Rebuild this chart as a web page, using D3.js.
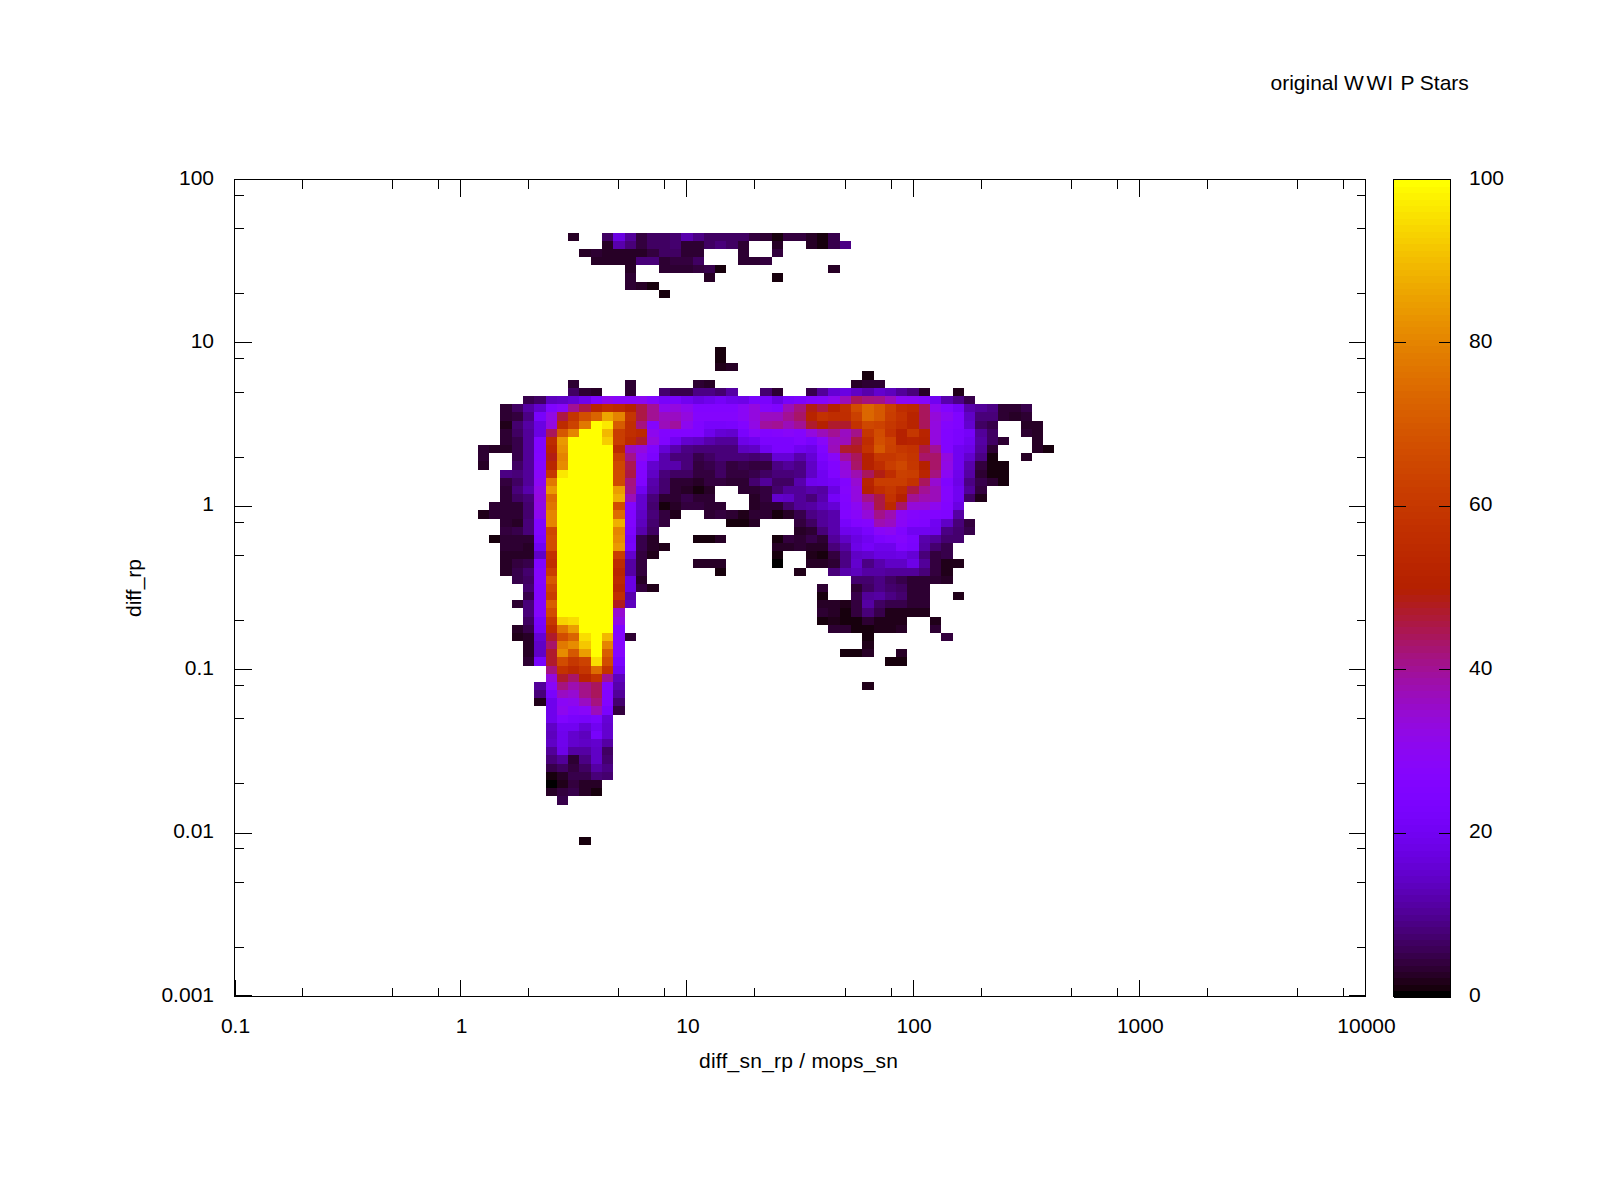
<!DOCTYPE html>
<html>
<head>
<meta charset="utf-8">
<title>original WWI P Stars</title>
<script src="https://cdn.jsdelivr.net/npm/d3@7"></script>
<style>
	html, body { margin: 0; padding: 0; background: #fff; }
	svg { display: block; }
	text { font-family: "Liberation Sans", sans-serif; font-size: 21px; fill: #000; }
</style>
</head>
<body>
<script>
const _ = null;
const Y = 100; // saturated cell

// tick labels
const xMajor = [0.1, 1, 10, 100, 1000, 10000];
const xMajorLabels = ["0.1", "1", "10", "100", "1000", "10000"];
const yMajor = [0.001, 0.01, 0.1, 1, 10, 100];
const yMajorLabels = ["0.001", "0.01", "0.1", "1", "10", "100"];
const minorSteps = [2, 5, 8];
const colorTicks = [0, 20, 40, 60, 80, 100];

// histogram: bins are 0.05 dex wide, x bin n is 10^(-1 + n/20), y bin m is 10^(-3 + m/20)
const rowBins = [93, 92, 91, 90, 89, 88, 87, 86, 79, 78, 77, 76, 75, 74, 73, 72, 71, 70, 69, 68, 67, 66, 65, 64, 63, 62, 61, 60, 59, 58, 57, 56, 55, 54, 53, 52, 51, 50, 49, 48, 47, 46, 45, 44, 43, 42, 41, 40, 39, 38, 37, 36, 35, 34, 33, 32, 31, 30, 29, 28, 27, 26, 25, 24, 19];
const rowFirstBin = [30, 33, 31, 32, 35, 35, 35, 38, 43, 43, 43, 56, 30, 30, 26, 24, 24, 24, 24, 24, 22, 22, 22, 24, 24, 24, 24, 23, 22, 24, 24, 23, 24, 24, 24, 24, 25, 26, 26, 25, 26, 26, 25, 25, 26, 26, 26, 28, 28, 27, 27, 27, 28, 28, 28, 28, 28, 28, 28, 28, 28, 28, 28, 29, 31];
const rowCounts = [
	[2,_,_,6,17,10,4,6,6,7,12,9,6,6,6,6,4,3,1,4,4,2,1,5],
	[2,12,8,4,6,6,7,3,3,6,8,6,3,_,_,2,_,_,2,1,5,9],
	[2,3,2,2,2.5,2.5,4,6,6,3,3,_,_,_,3,_,_,4],
	[2,2,2,2,8,8,3,4,4,6,_,_,_,3,3,4],
	[2,_,_,3,3,3,4,5,.7,_,_,_,_,_,_,_,_,_,2],
	[3,_,_,_,_,_,_,2,_,_,_,_,_,1],
	[3,2,.7],
	[1],
	[.7],
	[.7],
	[1.5,2],
	[.7],
	[3,_,_,_,_,3,_,_,_,_,_,3,2,_,_,_,_,_,_,_,_,_,_,_,_,2,3,3],
	[6,3,2,_,_,3,_,_,7,5,5,9,9,7,11,_,_,7,3,_,_,5,10,16,17,14,12,15,13,10,8,2,_,_,1.5],
	[5,6,13,14,16,19,25,31,28,28,30,26,22,23,20,17,19,21,19,18,23,23,17,22,24,26,27,31,37,44,42,41,37,30,29,27,20,12,9,5],
	[3,6,11,15,25,28,40,46,52,56,54,50,46,40,31,33,31,26,26,26,26,29,33,27,25,37,42,49,46,50,57,67,74,70,63,56,54,44,31,26,21,12,10,9,3,3,5],
	[3,4,9,22,32,46,59,68,73,87,80,59,46,40,36,36,33,27,27,27,27,29,33,36,36,40,43,52,58,56,56,63,74,70,62,58,52,44,34,30,25,14,8,8,3,2,3],
	[1.5,7,11,17,33,55,64,78,Y,97,71,57,42,27,37,39,31,25,22,22,23,26,32,39,40,37,40,47,50,47,47,58,65,64,60,57,52,44,33,27,25,15,6,5,_,_,2,2],
	[3,6,10,17,44,70,80,Y,Y,90,62,57,54,31,26,26,26,25,19,16,15,23,28,26,27,28,27,33,37,40,36,41,60,67,58,50,60,52,33,26,24,21,10,6,_,_,3,2],
	[3,5,10,25,55,84,Y,Y,Y,93,62,54,47,33,25,20,15,14,12,10,10,18,20,24,24,24,26,23,28,36,37,46,56,68,64,50,52,51,33,26,24,20,11,6,3,_,_,2],
	[3,2,2,5,10,25,53,83,Y,Y,Y,Y,54,36,33,25,16,12,9,8,8,8,8,13,14,20,24,24,20,18,25,37,47,48,58,70,63,60,58,46,40,26,20,18,10,3,_,_,_,2,1],
	[3,_,_,5,10,26,49,80,Y,Y,Y,Y,62,41,30,24,12,8,8,5,6,8,8,8,7,8,16,16,12,16,24,28,39,44,50,60,60,62,59,43,43,33,20,15,9,1,_,_,2],
	[2,_,_,6,10,27,53,82,Y,Y,Y,Y,65,45,26,15,12,12,8,4,5,6,4,5,4,4,9,10,9,14,21,26,34,43,50,56,62,65,60,50,43,32,20,12,4,.7,.7],
	[9,8,10,28,60,97,Y,Y,Y,Y,66,46,26,14,8,6,6,4,4,6,4,4,5,6,8,8,9,14,20,25,33,38,44,49,56,63,62,53,42,30,19,11,3,.7,.7],
	[4,6,10,30,78,Y,Y,Y,Y,Y,66,42,25,12,7,3,3,2,4,4,3,3,7,10,6,6,12,19,20,21,26,35,52,62,62,62,58,44,35,25,18,9,5,3,1],
	[3,8,12,32,84,Y,Y,Y,Y,Y,85,41,20,11,7,3,2,1,2,_,_,3,3,4,7,10,10,12,11,17,27,33,50,57,60,55,46,40,37,27,20,10,4],
	[3,6,8,33,75,Y,Y,Y,Y,Y,88,37,15,8,3,3,5,3,3,_,_,_,2,4,15,14,10,8,12,21,26,33,41,46,58,50,40,38,37,27,20,6,1.5],
	[3,3,3,7,32,77,Y,Y,Y,Y,Y,67,26,15,7,.8,2,4,4,3,3,_,_,2,3,3,7,10,11,13,16,25,30,36,46,54,43,34,34,31,26,17],
	[1.5,3,3,3,7,31,80,Y,Y,Y,Y,Y,75,25,14,8,4,1.5,_,_,3,4,3,1.5,3,3,1,2,5,9,10,12,26,28,34,41,38,29,27,26,26,25,11],
	[3,2,8,25,80,Y,Y,Y,Y,Y,88,25,13,7,4,_,_,_,_,_,1,1,2,_,_,_,4,6,10,12,22,26,27,38,36,29,26,25,20,14,8,4],
	[4,5,8,25,65,Y,Y,Y,Y,Y,80,24,12,6,_,_,_,_,_,_,_,_,_,_,_,_,2,3,8,12,19,20,23,28,30,25,20,20,19,9,7,5],
	[1,3,3,3,24,67,Y,Y,Y,Y,Y,82,21,5,2,_,_,_,.7,.7,2,_,_,_,_,1,4,3,5,3,10,14,17,20,24,25,27,24,12,10,7,7],
	[3,3,2,20,67,Y,Y,Y,Y,Y,84,22,5,2,1.5,_,_,_,_,_,_,_,_,_,2,2,3,2,2,8,11,18,21,19,19,25,23,11,7,5],
	[2,2,2,14,58,Y,Y,Y,Y,Y,62,15,4,1.5,_,_,_,_,_,_,_,_,_,_,1,_,_,1.5,1,4,9,14,15,17,17,18,16,8,4,5],
	[2,4,5,25,57,Y,Y,Y,Y,Y,55,11,4,_,_,_,_,2,2,2,_,_,_,_,.3,_,_,2,2,3,9,15,9,12,14,14,18,10,4,1.5,1.5],
	[2,5,7,27,62,Y,Y,Y,Y,Y,53,11,4,_,_,_,_,_,_,.7,_,_,_,_,_,_,1.5,_,_,8,12,13,11,11,10,10,10,8,4,1.5],
	[5,6,27,70,Y,Y,Y,Y,Y,54,17,2,_,_,_,_,_,_,_,_,_,_,_,_,_,_,_,_,_,_,7,7,9,6,5,3,3,3,2],
	[7,26,65,Y,Y,Y,Y,Y,52,17,4,1.5,_,_,_,_,_,_,_,_,_,_,_,_,_,_,3,_,_,3,6,9,7,6,3,3],
	[5,26,62,Y,Y,Y,Y,Y,57,12,_,_,_,_,_,_,_,_,_,_,_,_,_,_,_,_,1,_,_,5,10,11,9,7,3,3,_,_,1.5],
	[3,8,27,72,Y,Y,Y,Y,Y,48,13,_,_,_,_,_,_,_,_,_,_,_,_,_,_,_,_,2,2,1.5,4,11,6,5,5,3,3],
	[8,27,67,Y,Y,Y,Y,Y,35,_,_,_,_,_,_,_,_,_,_,_,_,_,_,_,_,_,3,2,.6,4,8,5,1.5,1.5,1.5,1.5],
	[6,22,60,94,95,Y,Y,Y,32,_,_,_,_,_,_,_,_,_,_,_,_,_,_,_,_,_,1,1.5,1,1,3,1.5,1.5,1.5,_,_,1.5],
	[2,5,21,54,77,85,Y,Y,Y,26,_,_,_,_,_,_,_,_,_,_,_,_,_,_,_,_,_,_,3,3,.7,.5,1.5,1.5,2,_,_,3],
	[1.5,2,16,47,67,73,95,Y,90,27,3,_,_,_,_,_,_,_,_,_,_,_,_,_,_,_,_,_,_,_,_,1,_,_,_,_,_,_,4],
	[2,14,43,78,82,92,Y,80,27,_,_,_,_,_,_,_,_,_,_,_,_,_,_,_,_,_,_,_,_,_,1.5],
	[2,14,47,82,70,85,Y,72,27,_,_,_,_,_,_,_,_,_,_,_,_,_,_,_,_,_,_,_,.7,.7,2,_,_,2],
	[3,22,47,67,60,64,95,67,23,_,_,_,_,_,_,_,_,_,_,_,_,_,_,_,_,_,_,_,_,_,_,_,.5,.5],
	[42,58,54,59,75,58,20],
	[33,47,43,52,58,40,13],
	[10,28,42,38,41,44,27,12,_,_,_,_,_,_,_,_,_,_,_,_,_,_,_,_,_,_,_,_,_,1.5],
	[8,23,36,35,41,44,26,10],
	[1.5,19,29,31,36,42,26,7],
	[19,31,27,28,37,23,4],
	[19,25,23,22,24,16],
	[14,20,20,16,20,15],
	[13,19,15,13,22,15],
	[14,19,15,14,15,11],
	[10,18,11,11,14,6],
	[8,10,3,9,14,7],
	[5,6,4,6,11,9],
	[1,2.5,5,5,8,7],
	[.3,1.5,4,2,2],
	[2,4,5,2.5,1],
	[5],
	[1]
];

const svg = d3.select("body").append("svg").attr("width", 1600).attr("height", 1200);

const x = d3.scaleLog().domain([0.1, 10000]).range([234.5, 1365.5]);
const y = d3.scaleLog().domain([0.001, 100]).range([996.5, 179.5]);
const cb = d3.scaleLinear().domain([0, 100]).range([996.5, 179.5]);

// gnuplot rgbformulae 7,5,15 cut into the 128 levels the terminal uses
const levels = 128;
function palette(v) {
	const t = Math.round(v / 100 * (levels - 1)) / (levels - 1);
	const r = Math.sqrt(t), g = t * t * t, b = Math.max(0, Math.sin(2 * Math.PI * t));
	return d3.rgb(r * 255, g * 255, b * 255).formatHex();
}

const xEdge = n => Math.pow(10, -1 + n / 20);
const yEdge = m => Math.pow(10, -3 + m / 20);
const cells = [];
rowCounts.forEach((row, r) => {
	row.forEach((v, k) => {
		if (v !== null) cells.push({ m: rowBins[r], n: rowFirstBin[r] + k, v: v });
	});
});

svg.append("g").attr("shape-rendering", "crispEdges")
	.selectAll("rect").data(cells).join("rect")
	.attr("x", d => x(xEdge(d.n - 0.5)))
	.attr("y", d => y(yEdge(d.m + 0.5)))
	.attr("width", d => x(xEdge(d.n + 0.5)) - x(xEdge(d.n - 0.5)))
	.attr("height", d => y(yEdge(d.m - 0.5)) - y(yEdge(d.m + 0.5)))
	.attr("fill", d => palette(d.v));

// minor ticks at 2, 5, 8 of each decade
const minors = (lo, hi) => d3.range(lo, hi).flatMap(e => minorSteps.map(s => s * Math.pow(10, e)));
const xMinor = minors(-1, 4);
const yMinor = minors(-3, 2);

function addAxis(gen, values, size) {
	const g = svg.append("g").attr("shape-rendering", "crispEdges")
		.call(gen.tickValues(values).tickSize(size).tickSizeOuter(0).offset(0).tickFormat(""));
	g.select(".domain").remove();
	g.selectAll("line").attr("stroke", "#000");
	return g;
}
const majorLen = 17, minorLen = 9;
addAxis(d3.axisBottom(x), xMajor, -majorLen).attr("transform", "translate(0,996.5)");
addAxis(d3.axisBottom(x), xMinor, -minorLen).attr("transform", "translate(0,996.5)");
addAxis(d3.axisTop(x), xMajor, -majorLen).attr("transform", "translate(0,179.5)");
addAxis(d3.axisTop(x), xMinor, -minorLen).attr("transform", "translate(0,179.5)");
addAxis(d3.axisLeft(y), yMajor, -majorLen).attr("transform", "translate(234.5,0)");
addAxis(d3.axisLeft(y), yMinor, -minorLen).attr("transform", "translate(234.5,0)");
addAxis(d3.axisRight(y), yMajor, -majorLen).attr("transform", "translate(1365.5,0)");
addAxis(d3.axisRight(y), yMinor, -minorLen).attr("transform", "translate(1365.5,0)");

// frame
svg.append("rect").attr("x", 234.5).attr("y", 179.5).attr("width", 1131).attr("height", 817)
	.attr("fill", "none").attr("stroke", "#000").attr("shape-rendering", "crispEdges");

// the doubled corner ticks come out heavier
const corner = d3.path();
corner.moveTo(234.5, 995.5); corner.lineTo(234.5 + majorLen, 995.5);
corner.moveTo(235.5, 996.5); corner.lineTo(235.5, 996.5 - majorLen);
corner.moveTo(1365.5 - majorLen, 995.5); corner.lineTo(1365.5, 995.5);
svg.append("path").attr("d", corner.toString()).attr("fill", "none").attr("stroke", "#000")
	.attr("shape-rendering", "crispEdges");

// tick labels
svg.append("g").selectAll("text").data(xMajor).join("text")
	.attr("x", d => x(d) + 1).attr("y", 1033).attr("text-anchor", "middle")
	.text((d, k) => xMajorLabels[k]);
svg.append("g").selectAll("text").data(yMajor).join("text")
	.attr("x", 214).attr("y", d => y(d) + 5).attr("text-anchor", "end")
	.text((d, k) => yMajorLabels[k]);

// colour box
const cbX = 1393.5, cbW = 57;
const cbStep = 100 / levels;
svg.append("g").attr("shape-rendering", "crispEdges")
	.selectAll("rect").data(d3.range(levels)).join("rect")
	.attr("x", cbX).attr("width", cbW)
	.attr("y", d => cb((d + 1) * cbStep))
	.attr("height", d => cb(d * cbStep) - cb((d + 1) * cbStep) + 1)
	.attr("fill", d => palette(d / (levels - 1) * 100));
svg.append("rect").attr("x", cbX).attr("y", 179.5).attr("width", cbW).attr("height", 817)
	.attr("fill", "none").attr("stroke", "#000").attr("shape-rendering", "crispEdges");
addAxis(d3.axisLeft(cb), colorTicks, -12).attr("transform", `translate(${cbX},0)`);
addAxis(d3.axisRight(cb), colorTicks, -12).attr("transform", `translate(${cbX + cbW},0)`);
svg.append("g").selectAll("text").data(colorTicks).join("text")
	.attr("x", 1469).attr("y", d => cb(d) + 5)
	.text(d => d);

// titles, gd spaces the two W apart so nudge the second one
const title = svg.append("text").attr("x", 1270.5).attr("y", 90).text("original W");
title.append("tspan").attr("dx", 2.5).text("W");
title.append("tspan").attr("dx", 1).text("I");
title.append("tspan").attr("dx", 1.5).text(" P Stars");
svg.append("text").attr("x", 798.5).attr("y", 1068).attr("text-anchor", "middle")
	.attr("textLength", 199).attr("lengthAdjust", "spacing")
	.text("diff_sn_rp / mops_sn");
svg.append("text").attr("transform", "translate(141,588) rotate(-90)").attr("text-anchor", "middle")
	.text("diff_rp");
</script>
</body>
</html>
